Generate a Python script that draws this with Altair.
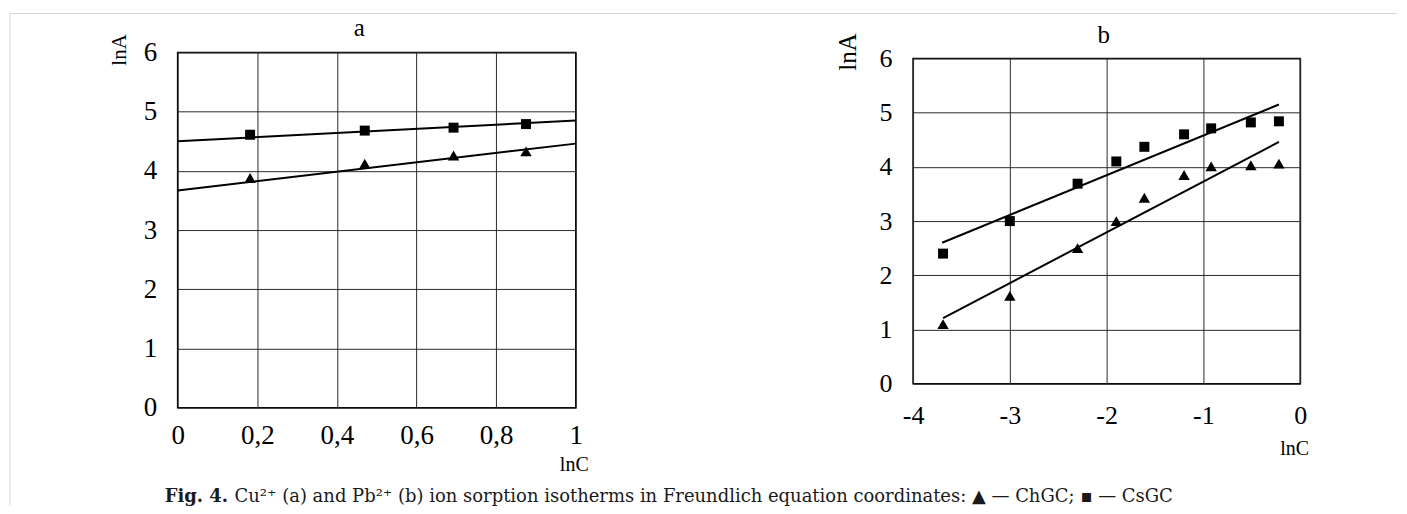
import altair as alt
import pandas as pd

# ---------------- data ----------------
# Panel a : Cu2+
a_x = [0.182, 0.470, 0.693, 0.875]
a_sq_y = [4.61, 4.68, 4.73, 4.79]
a_tri_y = [3.88, 4.12, 4.26, 4.33]
a_sq_line_x = [0.0, 1.0]
a_sq_line_y = [4.50, 4.85]
a_tri_line_x = [0.0, 1.0]
a_tri_line_y = [3.67, 4.46]
a_x_ticks = [0, 0.2, 0.4, 0.6, 0.8, 1]

# Panel b : Pb2+
b_x = [-3.69, -3.00, -2.30, -1.90, -1.61, -1.20, -0.92, -0.51, -0.22]
b_sq_y = [2.40, 3.00, 3.69, 4.10, 4.37, 4.60, 4.71, 4.82, 4.84]
b_tri_y = [1.10, 1.62, 2.50, 3.00, 3.43, 3.85, 4.01, 4.03, 4.06]
b_sq_line_x = [-3.70, -0.22]
b_sq_line_y = [2.60, 5.15]
b_tri_line_x = [-3.69, -0.22]
b_tri_line_y = [1.21, 4.46]
b_x_ticks = [-4, -3, -2, -1, 0]

y_ticks = [0, 1, 2, 3, 4, 5, 6]

panel_titles = ["a", "b"]
x_title = "lnC"
y_title = "lnA"
caption_bold = ["Fig. 4."]
caption_rest = ["Cu\u00b2\u207a (a) and Pb\u00b2\u207a (b) ion sorption isotherms in Freundlich equation coordinates: \u25b2 \u2014 ChGC; \u25aa \u2014 CsGC"]

SERIF = "'Liberation Serif', 'Times New Roman', serif"
CAP_FONT = "'DejaVu Serif', serif"


def panel(xs, sq, tri, slx, sly, tlx, tly, xdom, xticks, w, h, title, tpos,
          ytitle_xy, xtitle_xy, fs, xpad, extra=None):
    X = alt.X("x:Q", scale=alt.Scale(domain=xdom, nice=False, zero=False),
              axis=alt.Axis(values=xticks, grid=True, gridColor="#2a2a2a", gridWidth=1,
                            domain=False, ticks=False, labelFont=SERIF, labelFontSize=fs,
                            labelColor="black", labelPadding=xpad, labelFlush=False,
                            labelOverlap=False,
                            labelExpr="replace(toString(datum.value), '.', ',')",
                            title=x_title, titleFont=SERIF, titleFontSize=20,
                            titleFontWeight="normal", titleColor="black",
                            titleX=xtitle_xy[0], titleY=xtitle_xy[1],
                            titleAlign="center", titleBaseline="middle"))
    Y = alt.Y("y:Q", scale=alt.Scale(domain=[0, 6], nice=False, zero=False),
              axis=alt.Axis(values=y_ticks, grid=True, gridColor="#2a2a2a", gridWidth=1,
                            domain=False, ticks=False, labelFont=SERIF, labelFontSize=fs,
                            labelColor="black", labelPadding=21, labelFlush=False,
                            labelOverlap=False,
                            title=y_title, titleFont=SERIF, titleFontSize=ytitle_xy[2],
                            titleFontWeight="normal", titleColor="black",
                            titleAngle=270, titleX=ytitle_xy[0], titleY=ytitle_xy[1],
                            titleAlign="center", titleBaseline="middle"))
    pts_sq = pd.DataFrame({"x": xs, "y": sq})
    pts_tri = pd.DataFrame({"x": xs, "y": tri})
    ln_sq = pd.DataFrame({"x": slx, "y": sly})
    ln_tri = pd.DataFrame({"x": tlx, "y": tly})
    layers = [
        alt.Chart(ln_sq).mark_line(color="black", strokeWidth=2).encode(x=X, y=Y),
        alt.Chart(ln_tri).mark_line(color="black", strokeWidth=2).encode(x=X, y=Y),
        alt.Chart(pts_sq).mark_point(shape="square", filled=True, size=100, color="black",
                                     opacity=1).encode(x=X, y=Y),
        alt.Chart(pts_tri).mark_point(shape="triangle-up", filled=True, size=130, color="black",
                                      opacity=1).encode(x=X, y=Y),
        alt.Chart(pd.DataFrame({"t": [title]})).mark_text(
            font=SERIF, fontSize=25, color="black", align="center", baseline="alphabetic"
        ).encode(text="t:N", x=alt.value(tpos[0]), y=alt.value(tpos[1])),
    ]
    if extra:
        layers += extra
    return alt.layer(*layers).properties(
        width=w, height=h, view=alt.ViewBackground(stroke="black", strokeWidth=1.5))


one = pd.DataFrame({"k": [0]})
border = [
    alt.Chart(one).mark_rule(color="#d6d6d6", strokeWidth=1).encode(
        x=alt.value(-168), y=alt.value(-39), y2=alt.value(454)),
    alt.Chart(one).mark_rule(color="#d6d6d6", strokeWidth=1).encode(
        x=alt.value(-168), x2=alt.value(1222), y=alt.value(-39)),
    alt.Chart(pd.DataFrame({"t": caption_bold})).mark_text(
        font=CAP_FONT, fontSize=18, fontWeight="bold", color="#1a1a1a",
        align="left", baseline="alphabetic"
    ).encode(text="t:N", x=alt.value(-13), y=alt.value(451)),
    alt.Chart(pd.DataFrame({"t": caption_rest})).mark_text(
        font=CAP_FONT, fontSize=18, color="#1a1a1a", align="left", baseline="alphabetic"
    ).encode(text="t:N", x=alt.value(57), y=alt.value(451)),
]

left = panel(a_x, a_sq_y, a_tri_y, a_sq_line_x, a_sq_line_y, a_tri_line_x, a_tri_line_y,
             [0, 1], a_x_ticks, 399, 356, panel_titles[0], (182, -16),
             (-58, -3, 21), (397, 57), 27, 15, extra=border)

right = panel(b_x, b_sq_y, b_tri_y, b_sq_line_x, b_sq_line_y, b_tri_line_x, b_tri_line_y,
              [-4, 0], b_x_ticks, 388, 326, panel_titles[1], (191, -15),
              (-66, -7, 25), (382, 65), 26, 19)

spacer = alt.Chart(one).mark_point(opacity=0).encode(
    x=alt.value(0), y=alt.value(0)
).properties(width=388, height=6, view=alt.ViewBackground(stroke="transparent"))

right_col = alt.vconcat(spacer, right, spacing=0, bounds="flush")

chart = alt.hconcat(left, right_col, spacing=338, bounds="flush").properties(
    padding={"left": 0, "top": 3, "right": 0, "bottom": 0},
    background="white",
)

chart.save("out.html", embed_options={"renderer": "svg", "actions": False})
